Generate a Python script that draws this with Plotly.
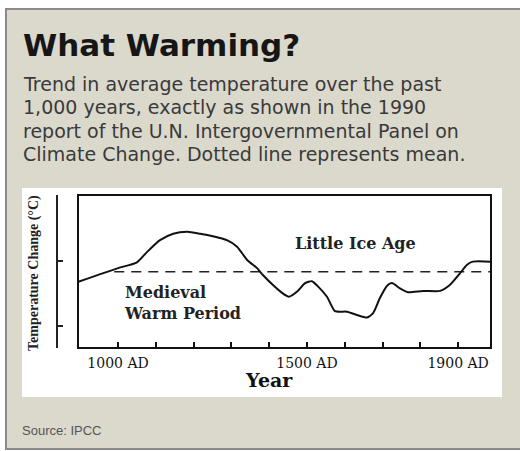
import plotly.graph_objects as go

# ---- data ----
years = [895, 1000, 1050, 1077, 1111, 1146, 1183, 1217, 1251, 1288, 1315, 1341, 1368,
         1384, 1410, 1434, 1452, 1474, 1495, 1513, 1529, 1553, 1574, 1606, 1632, 1659,
         1675, 1693, 1712, 1725, 1746, 1767, 1807, 1852, 1878, 1905, 1923, 1939, 1985]
temps = [-0.32, -0.11, -0.02, 0.14, 0.32, 0.42, 0.45, 0.42, 0.38, 0.32, 0.22, 0.02, -0.11,
         -0.22, -0.37, -0.49, -0.55, -0.47, -0.34, -0.31, -0.39, -0.55, -0.77, -0.78, -0.83, -0.87,
         -0.80, -0.57, -0.38, -0.34, -0.42, -0.48, -0.46, -0.46, -0.37, -0.19, -0.06, -0.01, -0.01]
mean_years = [990, 1987]
mean_value = -0.165
tick_years = [1000, 1100, 1200, 1300, 1400, 1500, 1600, 1700, 1800, 1900]
tick_labels = ["1000 AD", "", "", "", "", "1500 AD", "", "", "", "1900 AD"]
y_ticks = [1.01, 0, -1]
subtitle_lines = ["Trend in average temperature over the past",
                  "1,000 years, exactly as shown in the 1990",
                  "report of the U.N. Intergovernmental Panel on",
                  "Climate Change. Dotted line represents mean."]

W, H = 520, 451
L, R, T, B = 40, 491, 195, 348


def px(x):
    return (x - L) / (R - L)


def py(y):
    return (B - y) / (B - T)


fig = go.Figure()
fig.add_trace(go.Scatter(x=mean_years, y=[mean_value, mean_value], mode="lines",
                         line=dict(color="#222", width=1.5, dash="10px,7px"),
                         hoverinfo="skip", showlegend=False))
fig.add_trace(go.Scatter(x=years, y=temps, mode="lines",
                         line=dict(color="#111", width=2, shape="spline", smoothing=0.6),
                         showlegend=False))

serif = "DejaVu Serif"
ann = []
ann.append(dict(text="<b>What Warming?</b>", x=px(21), y=py(45), xref="paper", yref="paper",
                xanchor="left", yanchor="middle", showarrow=False,
                font=dict(family="DejaVu Sans", size=31, color="#161616")))
for i, line in enumerate(subtitle_lines):
    ann.append(dict(text=line, x=px(21), y=py(84 + 23.3 * i), xref="paper", yref="paper",
                    xanchor="left", yanchor="middle", align="left", showarrow=False,
                    font=dict(family="DejaVu Sans", size=19, color="#3a3a3a")))
ann.append(dict(text="Source: IPCC", x=px(20), y=py(430), xref="paper", yref="paper",
                xanchor="left", yanchor="middle", showarrow=False,
                font=dict(family="Liberation Sans", size=13, color="#555")))
ann.append(dict(text="<b>Little Ice Age</b>", x=px(355), y=py(243), xref="paper", yref="paper",
                xanchor="center", yanchor="middle", showarrow=False,
                font=dict(family=serif, size=16, color="#222")))
ann.append(dict(text="<b>Medieval<br>Warm Period</b>", x=px(122), y=py(303), xref="paper", yref="paper",
                xanchor="left", yanchor="middle", align="left", showarrow=False,
                font=dict(family=serif, size=16, color="#222")))
ann.append(dict(text="<b>Year</b>", x=px(269), y=py(380), xref="paper", yref="paper",
                xanchor="center", yanchor="middle", showarrow=False,
                font=dict(family=serif, size=19, color="#111")))
ann.append(dict(text="<b>Temperature Change (°C)</b>", x=px(34), y=py(273), xref="paper", yref="paper",
                xanchor="center", yanchor="middle", textangle=-90, showarrow=False,
                font=dict(family="Liberation Serif", size=14, color="#222")))

shapes = [
    # outer panel border
    dict(type="rect", xref="paper", yref="paper", x0=px(6), x1=px(522), y0=py(9), y1=py(449),
         line=dict(color="#8a8a8a", width=2), fillcolor="#dbd8cc", layer="below"),
    # white chart box
    dict(type="rect", xref="paper", yref="paper", x0=px(22), x1=px(502), y0=py(188), y1=py(397),
         line=dict(width=0), fillcolor="white", layer="below"),
    # plot frame
    dict(type="rect", xref="x domain", yref="y domain", x0=0, x1=1, y0=0, y1=1,
         line=dict(color="#111", width=2)),
]

fig.update_layout(
    width=W, height=H,
    margin=dict(l=L, r=W - R, t=T, b=H - B),
    paper_bgcolor="white", plot_bgcolor="rgba(0,0,0,0)",
    annotations=ann, shapes=shapes,
    xaxis=dict(domain=[px(78), 1], range=[894, 1987], showgrid=False, zeroline=False,
               showline=False, ticks="inside", ticklen=6, tickwidth=1.5, tickcolor="#111",
               tickvals=tick_years, ticktext=tick_labels,
               tickfont=dict(family=serif, size=14, color="#111"), ticklabelstandoff=5),
    yaxis=dict(range=[-1.338, 1.015], anchor="free", position=px(57), showgrid=False,
               zeroline=False, showline=True, linecolor="#222", linewidth=1.5,
               ticks="inside", ticklen=5, tickwidth=1.5, tickcolor="#222",
               tickvals=y_ticks, showticklabels=False),
)

fig.write_html("out.html", config={"displayModeBar": False},
               post_script="document.body.style.margin='0px';")
